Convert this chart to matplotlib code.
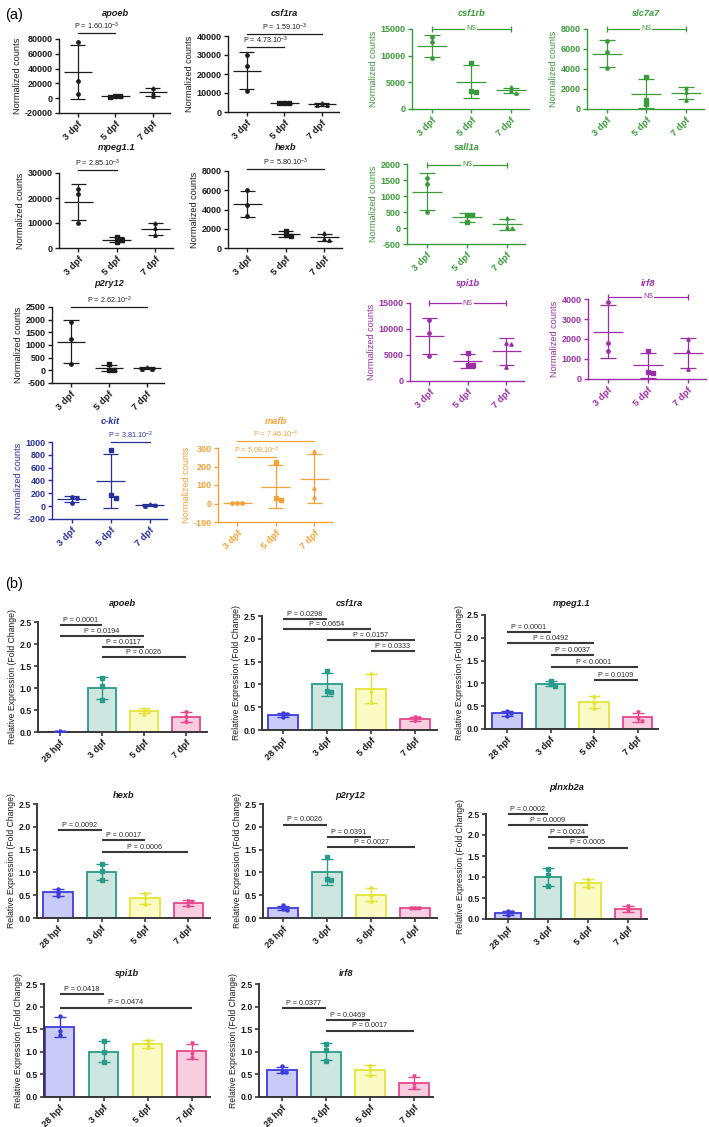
import numpy as np
import matplotlib
matplotlib.use("Agg")
import matplotlib.pyplot as plt
from matplotlib.transforms import blended_transform_factory

plt.rcParams['font.family'] = ['Liberation Sans', 'DejaVu Sans']
plt.rcParams['font.weight'] = 'bold'
plt.rcParams['mathtext.default'] = 'regular'
plt.rcParams['axes.unicode_minus'] = False

W, H = 709, 1127

# ---------------- (a) normalized counts, 3 replicates per stage ----------------
days_a = ["3 dpf", "5 dpf", "7 dpf"]

apoeb_a = [[76500, 23800, 5800], [2200, 2600, 3000], [13500, 7600, 3100]]
csf1ra_a = [[30000, 24200, 11200], [4900, 4500, 4600], [4900, 3700, 3500]]
csf1rb_a = [[13560, 12500, 9500], [8700, 3430, 3200], [4050, 3400, 3050]]
slc7a7_a = [[6800, 5730, 4070], [3170, 900, 500], [2130, 1730, 900]]
mpeg11_a = [[23500, 21600, 10000], [4300, 3300, 2300], [10100, 7900, 5200]]
hexb_a = [[6000, 4500, 3280], [1800, 1300, 1200], [1550, 950, 820]]
sall1a_a = [[1550, 1375, 490], [420, 400, 180], [320, 20, -10]]
p2ry12_a = [[1920, 1225, 237], [237, 30, 20], [120, 70, 50]]
spi1b_a = [[11700, 9300, 4800], [5450, 3150, 3000], [7250, 7050, 2750]]
irf8_a = [[3870, 1820, 1400], [1400, 350, 320], [1980, 1400, 480]]
ckit_a = [[150, 125, 55], [875, 175, 132], [35, 15, 10]]
mafb_a = [[3, 2, 2], [226, 28, 19], [285, 82, 37]]

apoeb_a_sig = [(0, 1, "P = 1.60.10$^{-3}$")]
csf1ra_a_sig = [(0, 2, "P = 1.59.10$^{-3}$"), (0, 1, "P = 4.73.10$^{-3}$")]
csf1rb_a_sig = [(0, 2, "NS")]
slc7a7_a_sig = [(0, 2, "NS")]
mpeg11_a_sig = [(0, 1, "P = 2.85.10$^{-3}$")]
hexb_a_sig = [(0, 2, "P = 5.80.10$^{-3}$")]
sall1a_a_sig = [(0, 2, "NS")]
p2ry12_a_sig = [(0, 2, "P = 2.62.10$^{-2}$")]
spi1b_a_sig = [(0, 2, "NS")]
irf8_a_sig = [(0, 2, "NS")]
ckit_a_sig = [(1, 2, "P = 3.81.10$^{-2}$")]
mafb_a_sig = [(0, 2, "P = 7.46.10$^{-4}$"), (0, 1, "P = 5.08.10$^{-3}$")]

# ---------------- (b) qPCR fold change, 3 replicates per stage ----------------
days_b = ["28 hpf", "3 dpf", "5 dpf", "7 dpf"]

apoeb_b = [[0.015, 0.01, 0.005], [1.23, 1.05, 0.73], [0.53, 0.5, 0.42], [0.45, 0.33, 0.23]]
csf1ra_b = [[0.37, 0.34, 0.29], [1.3, 0.86, 0.84], [1.25, 0.85, 0.62], [0.29, 0.26, 0.2]]
mpeg11_b = [[0.39, 0.34, 0.29], [1.05, 0.99, 0.94], [0.73, 0.6, 0.47], [0.37, 0.22, 0.18]]
hexb_b = [[0.64, 0.55, 0.49], [1.18, 1.02, 0.83], [0.54, 0.45, 0.3], [0.38, 0.34, 0.26]]
p2ry12_b = [[0.28, 0.2, 0.18], [1.33, 0.85, 0.84], [0.67, 0.5, 0.37], [0.22, 0.21, 0.21]]
plnxb2a_b = [[0.19, 0.16, 0.1], [1.18, 1.04, 0.78], [0.96, 0.84, 0.76], [0.31, 0.24, 0.18]]
spi1b_b = [[1.8, 1.45, 1.38], [1.23, 1.0, 0.78], [1.27, 1.16, 1.1], [1.2, 0.95, 0.87]]
irf8_b = [[0.68, 0.56, 0.55], [1.17, 1.03, 0.8], [0.7, 0.62, 0.48], [0.46, 0.28, 0.2]]

apoeb_b_sig = [(0, 1, "P = 0.0001"), (0, 2, "P = 0.0194"), (1, 2, "P = 0.0117"), (1, 3, "P = 0.0026")]
csf1ra_b_sig = [(0, 1, "P = 0.0298"), (0, 2, "P = 0.0654"), (1, 3, "P = 0.0157"), (2, 3, "P = 0.0333")]
mpeg11_b_sig = [(0, 1, "P = 0.0001"), (0, 2, "P = 0.0492"), (1, 2, "P = 0.0037"),
                (1, 3, "P < 0.0001"), (2, 3, "P = 0.0109")]
hexb_b_sig = [(0, 1, "P = 0.0092"), (1, 2, "P = 0.0017"), (1, 3, "P = 0.0006")]
p2ry12_b_sig = [(0, 1, "P = 0.0026"), (1, 2, "P = 0.0391"), (1, 3, "P = 0.0027")]
plnxb2a_b_sig = [(0, 1, "P = 0.0002"), (0, 2, "P = 0.0009"), (1, 2, "P = 0.0024"), (1, 3, "P = 0.0005")]
spi1b_b_sig = [(0, 1, "P = 0.0418"), (0, 3, "P = 0.0474")]
irf8_b_sig = [(0, 1, "P = 0.0377"), (1, 2, "P = 0.0469"), (1, 3, "P = 0.0017")]

# colours
BLACK = "#1c1c1c"
GREEN = "#3b9a3b"
PURPLE = "#9b2fa6"
NAVY = "#27309a"
ORANGE = "#f5a23c"
bar_fill = ["#cacaf7", "#cde6df", "#fafac4", "#f9cde0"]
bar_edge = ["#3c3cdc", "#2a9a8a", "#e4e43a", "#e6468c"]
SIG_B = "#383838"

# layout, pixels: spine x, axis top y, axis bottom y, category spacing,
# ymin, ymax, ystep, title y, significance bar heights (axes fraction)
layout_a = {
    "apoeb": (59, 39, 113, 37.5, -20000, 80000, 20000, 13, [1.081]),
    "csf1ra": (228, 36, 112, 37.5, 0, 40000, 10000, 13, [1.026, 0.859]),
    "csf1rb": (412, 29, 109, 39.5, 0, 15000, 5000, 13, [1.0]),
    "slc7a7": (587, 29, 109, 39.5, 0, 8000, 2000, 13, [1.0]),
    "mpeg1.1": (59, 173, 248, 38.5, 0, 30000, 10000, 148, [1.04]),
    "hexb": (228, 171, 248, 38.5, 0, 8000, 2000, 148, [1.022]),
    "sall1a": (407, 164, 244, 40, -500, 2000, 500, 147, [0.99]),
    "p2ry12": (52, 307, 383, 38, -500, 2500, 500, 284, [1.004]),
    "spi1b": (410, 303, 381, 38.5, 0, 15000, 5000, 283, [0.996]),
    "irf8": (588, 299, 379, 40, 0, 4000, 1000, 283, [1.03]),
    "c-kit": (52, 442, 519, 39, -200, 1000, 200, 421, [1.004]),
    "mafb": (218, 448, 522, 38.5, -100, 300, 100, 421, [1.095, 0.88]),
}

# spine x, first category x, spacing, axis end x, top y, bottom y, title y, bar levels (data)
layout_b = {
    "apoeb": (38, 60, 42, 207, 622, 732, 603, [2.43, 2.19, 1.94, 1.70]),
    "csf1ra": (262, 283, 44, 437, 616, 730, 603, [2.43, 2.21, 1.97, 1.74]),
    "mpeg1.1": (485, 507, 43.5, 658, 615, 729, 603, [2.13, 1.89, 1.62, 1.35, 1.07]),
    "hexb": (37, 58, 43.5, 210, 804, 918, 796, [1.93, 1.70, 1.44]),
    "p2ry12": (263, 283, 44, 437, 804, 918, 796, [2.05, 1.78, 1.55]),
    "plnxb2a": (486, 508, 40, 647, 814, 919, 787, [2.49, 2.24, 1.96, 1.70]),
    "spi1b": (44, 59.5, 44, 210, 984, 1097, 973, [2.27, 1.98]),
    "irf8": (259, 282, 44, 433, 984, 1097, 973, [1.96, 1.70, 1.47]),
}

fig = plt.figure(figsize=(W / 100, H / 100), dpi=100)


def spread(vals, lo, hi, h_px, sp, sep=3.0, step_px=5.0):
    """Small horizontal offsets so close points don't sit on top of each other."""
    step = step_px / sp
    offs = np.zeros(len(vals))
    placed = []
    for k in np.argsort(vals)[::-1]:
        y = (vals[k] - lo) / (hi - lo) * h_px
        o = 0
        for o in (0, step, -step, 2 * step, -2 * step):
            if all(abs(y - py) >= sep or abs(o - po) * sp >= step_px * 0.9 for py, po in placed):
                break
        offs[k] = o
        placed.append((y, o))
    return offs


def style_axis(ax, color, lw):
    for side in ('top', 'right'):
        ax.spines[side].set_visible(False)
    for side in ('left', 'bottom'):
        ax.spines[side].set_color(color)
        ax.spines[side].set_linewidth(lw)
    ax.patch.set_visible(False)


def draw_a(name, groups, sig, color):
    sx, top, bot, sp, ylo, yhi, ystep, ty, levels = layout_a[name]
    ax = fig.add_axes([sx / W, 1 - bot / H, 2.95 * sp / W, (bot - top) / H])
    ax.set_xlim(-0.5, 2.45)
    ax.set_ylim(ylo, yhi)
    style_axis(ax, color, 1.0)
    markers = ['o', 's', '^']
    for i, vals in enumerate(groups):
        vals = np.asarray(vals, float)
        m, s = vals.mean(), vals.std(ddof=1)
        kw = dict(color=color, lw=0.9, clip_on=False, solid_capstyle='butt')
        ax.plot([i - 0.38, i + 0.38], [m, m], **kw)
        ax.plot([i, i], [m - s, m + s], **kw)
        for e in (m - s, m + s):
            ax.plot([i - 0.2, i + 0.2], [e, e], **kw)
        offs = spread(vals, ylo, yhi, bot - top, sp)
        ax.plot(i + offs, vals, ls='none', marker=markers[i], ms=2.4, color=color,
                clip_on=False, zorder=3)
    ax.set_yticks(np.arange(ylo, yhi + 1, ystep))
    ax.set_xticks(range(3))
    ax.set_xticklabels(days_a, rotation=45, ha='right', rotation_mode='anchor')
    ax.tick_params(colors=color, length=3, width=1.0, pad=1.5)
    ax.tick_params(axis='y', labelsize=6.5)
    ax.tick_params(axis='x', labelsize=6.8)
    ax.set_ylabel("Normalized counts", color=color, fontsize=6.6, labelpad=2)
    h = bot - top
    ax.text(1, (bot - ty) / h, name, transform=blended_transform_factory(ax.transData, ax.transAxes),
            ha='center', va='center', fontsize=6.7, style='italic', color=color)
    tr = blended_transform_factory(ax.transData, ax.transAxes)
    for (i, j, label), lv in zip(sig, levels):
        if label == "NS":
            ax.plot([i, j], [lv, lv], color=color, lw=0.9, marker='|', ms=4, mew=0.9,
                    transform=tr, clip_on=False)
            ax.text((i + j) / 2, lv, "NS", transform=tr, ha='center', va='center', fontsize=5.2,
                    fontweight='normal', color=color, bbox=dict(fc='white', ec='none', pad=0.8))
        else:
            ax.plot([i, j], [lv, lv], color=color, lw=0.9, transform=tr, clip_on=False)
            ax.annotate(label, ((i + j) / 2, lv), xycoords=tr, xytext=(0, 0.6),
                        textcoords='offset points', ha='center', va='bottom', fontsize=5.2,
                        fontweight='normal', color=color)
    return ax


def draw_b(name, groups, sig):
    sx, c0, sp, end, top, bot, ty, levels = layout_b[name]
    x_left = -(c0 - sx) / sp
    x_right = 3 + (end - (c0 + 3 * sp)) / sp
    ax = fig.add_axes([sx / W, 1 - bot / H, (end - sx) / W, (bot - top) / H])
    ax.set_xlim(x_left, x_right)
    ax.set_ylim(0, 2.5)
    style_axis(ax, SIG_B, 1.4)
    means = [np.mean(g) for g in groups]
    sds = [np.std(g, ddof=1) for g in groups]
    x = np.arange(len(groups))
    ax.bar(x, means, width=0.67, color=bar_fill, edgecolor=bar_edge, linewidth=1.3, zorder=2)
    markers = ['o', 's', '^', 'v']
    for i, vals in enumerate(groups):
        ax.errorbar(i, means[i], yerr=sds[i], fmt='none', ecolor=bar_edge[i], elinewidth=1.0,
                    capsize=4.2, capthick=1.0, zorder=3)
        vals = np.asarray(vals, float)
        offs = spread(vals, 0, 2.5, bot - top, sp, sep=2.5, step_px=4.0)
        ax.plot(i + offs, vals, ls='none', marker=markers[i], ms=2.2, color=bar_edge[i], zorder=4)
    ax.set_yticks(np.arange(0, 2.51, 0.5))
    ax.set_yticklabels(["%.1f" % v for v in np.arange(0, 2.51, 0.5)])
    ax.set_xticks(x)
    ax.set_xticklabels(days_b, rotation=45, ha='right', rotation_mode='anchor')
    ax.tick_params(colors=SIG_B, labelcolor="#1c1c1c", length=3, width=1.2, pad=1.5)
    ax.tick_params(axis='y', labelsize=6.3)
    ax.tick_params(axis='x', labelsize=6.6)
    ax.set_ylabel("Relative Expression (Fold Change)", fontsize=6.2, color="#1c1c1c", labelpad=2)
    ax.text(0.5, (bot - ty) / (bot - top), name, transform=ax.transAxes, ha='center', va='center',
            fontsize=6.7, style='italic', color="#1c1c1c")
    for (i, j, label), lv in zip(sig, levels):
        ax.plot([i, j], [lv, lv], color=SIG_B, lw=1.5, clip_on=False, solid_capstyle='butt')
        ax.annotate(label, ((i + j) / 2, lv), xytext=(0, 0.8), textcoords='offset points',
                    ha='center', va='bottom', fontsize=5.2, fontweight='normal', color="#2a2a2a")
    return ax


draw_a("apoeb", apoeb_a, apoeb_a_sig, BLACK)
draw_a("csf1ra", csf1ra_a, csf1ra_a_sig, BLACK)
draw_a("csf1rb", csf1rb_a, csf1rb_a_sig, GREEN)
draw_a("slc7a7", slc7a7_a, slc7a7_a_sig, GREEN)
draw_a("mpeg1.1", mpeg11_a, mpeg11_a_sig, BLACK)
draw_a("hexb", hexb_a, hexb_a_sig, BLACK)
draw_a("sall1a", sall1a_a, sall1a_a_sig, GREEN)
draw_a("p2ry12", p2ry12_a, p2ry12_a_sig, BLACK)
draw_a("spi1b", spi1b_a, spi1b_a_sig, PURPLE)
draw_a("irf8", irf8_a, irf8_a_sig, PURPLE)
draw_a("c-kit", ckit_a, ckit_a_sig, NAVY)
draw_a("mafb", mafb_a, mafb_a_sig, ORANGE)

draw_b("apoeb", apoeb_b, apoeb_b_sig)
draw_b("csf1ra", csf1ra_b, csf1ra_b_sig)
draw_b("mpeg1.1", mpeg11_b, mpeg11_b_sig)
draw_b("hexb", hexb_b, hexb_b_sig)
draw_b("p2ry12", p2ry12_b, p2ry12_b_sig)
draw_b("plnxb2a", plnxb2a_b, plnxb2a_b_sig)
draw_b("spi1b", spi1b_b, spi1b_b_sig)
draw_b("irf8", irf8_b, irf8_b_sig)

fig.text(5 / W, 1 - 15 / H, "(a)", fontsize=10.5, fontweight='normal', va='center', ha='left')
fig.text(5 / W, 1 - 584 / H, "(b)", fontsize=10.5, fontweight='normal', va='center', ha='left')

fig.savefig("out.png", dpi=100)
